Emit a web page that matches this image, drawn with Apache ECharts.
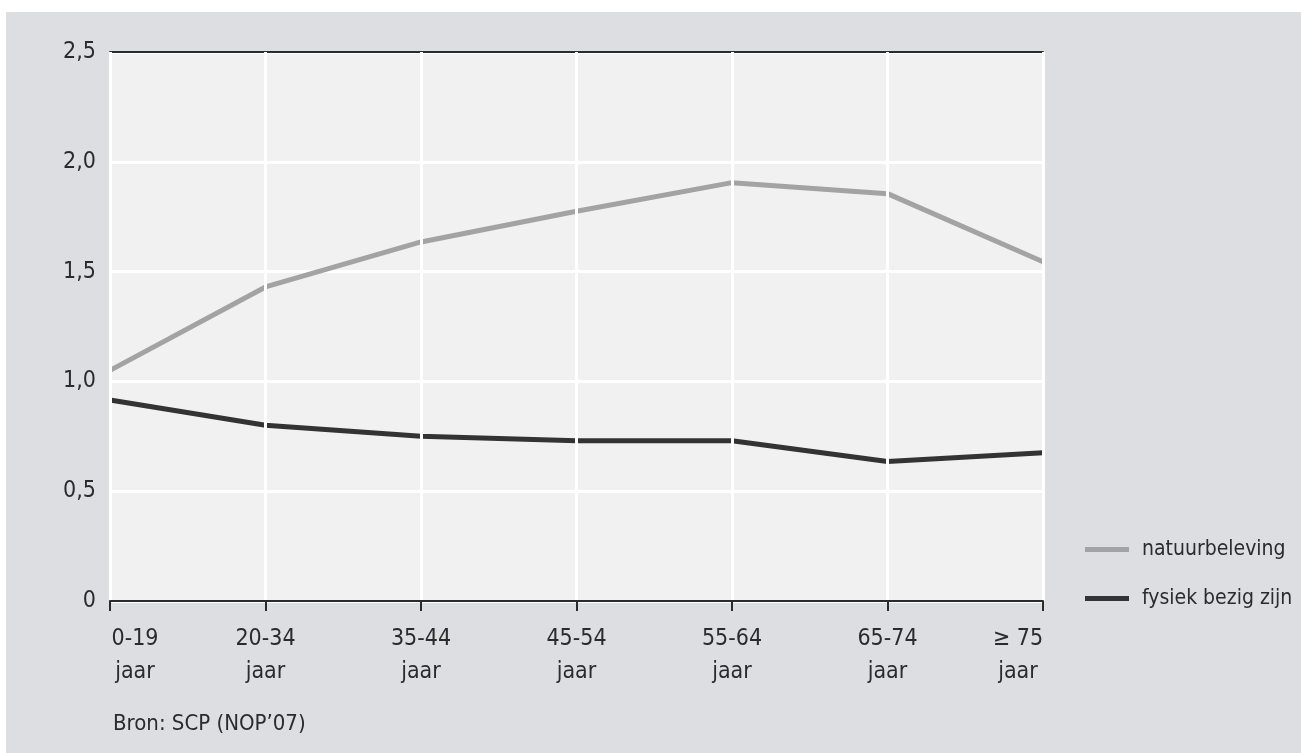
<!DOCTYPE html>
<html>
<head>
<meta charset="utf-8">
<script src="https://cdn.jsdelivr.net/npm/echarts@6/dist/echarts.min.js"></script>
<style>
html,body{margin:0;padding:0;background:#fff;}
#chart{width:1301px;height:753px;}
</style>
</head>
<body>
<div id="chart"></div>
<script>
// leeftijdsgroepen
var categories = ['0-19', '20-34', '35-44', '45-54', '55-64', '65-74', '≥ 75'];
var natuurbeleving = [1.05, 1.43, 1.635, 1.775, 1.905, 1.855, 1.545];
var fysiek = [0.915, 0.80, 0.75, 0.73, 0.73, 0.635, 0.675];
var yTicks = [0, 0.5, 1.0, 1.5, 2.0, 2.5];

var font = "'Liberation Sans Narrow', 'DejaVu Sans Condensed', sans-serif";
var myChart = echarts.init(document.getElementById('chart'));

var option = {
	backgroundColor: '#ffffff',
	animation: false,
	textStyle: { fontFamily: font },
	graphic: [{
		type: 'rect', left: 6, top: 12, z: -10,
		shape: { width: 1295, height: 741 },
		style: { fill: '#dcdee1' }
	}],
	title: {
		text: 'Bron: SCP (NOP\u201907)',
		left: 108, top: 708,
		textStyle: { fontFamily: font, fontSize: 22, fontWeight: 'normal', color: '#2b2b2b' }
	},
	legend: {
		orient: 'vertical',
		left: 1080, top: 534,
		itemWidth: 44, itemHeight: 5, itemGap: 28,
		icon: 'rect',
		textStyle: { fontFamily: font, fontSize: 21, color: '#2b2b2b', padding: [0, 0, 0, 8] },
		data: ['natuurbeleving', 'fysiek bezig zijn']
	},
	grid: {
		left: 110, right: 258, top: 52, bottom: 152,
		show: true, backgroundColor: '#f1f1f1', borderWidth: 0
	},
	xAxis: [{
		type: 'category',
		data: categories,
		boundaryGap: false,
		axisLine: { lineStyle: { color: '#2b2b2b', width: 2 } },
		axisTick: { length: 10, lineStyle: { color: '#2b2b2b', width: 2 } },
		axisLabel: {
			margin: 22,
			alignMinLabel: 'left', alignMaxLabel: 'right',
			formatter: function (v) { return '{a|' + v + '}\n{a|jaar}'; },
			rich: {
				a: { fontFamily: font, fontSize: 23, color: '#2b2b2b', lineHeight: 33, width: 50, align: 'center' }
			}
		},
		splitLine: { show: true, lineStyle: { color: '#ffffff', width: 3 } },
		z: 5
	}, {
		type: 'category',
		position: 'top',
		data: categories,
		boundaryGap: false,
		axisLine: { lineStyle: { color: '#2b2b2b', width: 2 } },
		axisTick: { show: false },
		axisLabel: { show: false },
		splitLine: { show: false }
	}],
	yAxis: {
		type: 'value',
		min: 0, max: 2.5, interval: 0.5,
		axisLine: { show: false },
		axisTick: { show: false },
		axisLabel: {
			fontFamily: font, fontSize: 23, color: '#2b2b2b', margin: 14,
			formatter: function (v) {
				if (yTicks.indexOf(v) < 0) return '';
				return v === 0 ? '0' : v.toFixed(1).replace('.', ',');
			}
		},
		splitLine: { lineStyle: { color: '#ffffff', width: 3 } }
	},
	series: [{
		name: 'natuurbeleving',
		type: 'line',
		data: natuurbeleving,
		symbol: 'none',
		color: '#a3a3a3',
		lineStyle: { width: 5, color: '#a3a3a3' }
	}, {
		name: 'fysiek bezig zijn',
		type: 'line',
		data: fysiek,
		symbol: 'none',
		color: '#333333',
		lineStyle: { width: 5, color: '#333333' }
	}]
};
myChart.setOption(option);
</script>
</body>
</html>
